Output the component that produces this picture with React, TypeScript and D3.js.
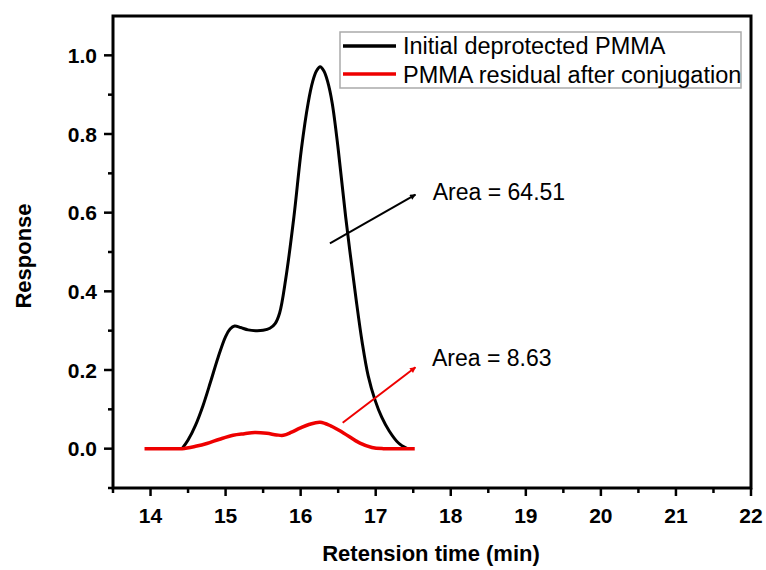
import React from "react";
import * as d3 from "d3";

const blackX = [14.42, 14.5, 14.6, 14.7, 14.8, 14.9, 15.0, 15.06, 15.12, 15.2, 15.3, 15.4, 15.5, 15.59, 15.66, 15.72, 15.8, 15.91, 16.01, 16.1, 16.16, 16.21, 16.26, 16.31, 16.36, 16.42, 16.5, 16.6, 16.74, 16.82, 16.9, 16.99, 17.08, 17.18, 17.3, 17.42];
const blackY = [0.0, 0.022, 0.06, 0.11, 0.17, 0.232, 0.285, 0.304, 0.312, 0.308, 0.302, 0.3, 0.301, 0.306, 0.318, 0.345, 0.43, 0.589, 0.762, 0.879, 0.933, 0.96, 0.971, 0.96, 0.933, 0.879, 0.762, 0.589, 0.378, 0.27, 0.185, 0.124, 0.08, 0.045, 0.015, 0.0];

const redX = [13.92, 14.2, 14.42, 14.6, 14.75, 14.92, 15.1, 15.25, 15.39, 15.55, 15.68, 15.77, 15.88, 15.99, 16.12, 16.26, 16.4, 16.57, 16.79, 16.95, 17.1, 17.3, 17.52];
const redY = [0.0, 0.0, 0.0, 0.006, 0.013, 0.024, 0.034, 0.038, 0.041, 0.039, 0.035, 0.034, 0.042, 0.052, 0.062, 0.067, 0.058, 0.04, 0.014, 0.003, 0.0, 0.0, 0.0];

const xTicks = [14, 15, 16, 17, 18, 19, 20, 21, 22];
const yTicks = [0.0, 0.2, 0.4, 0.6, 0.8, 1.0];
const legendLabels = ["Initial deprotected PMMA", "PMMA residual after conjugation"];
const seriesColors = ["#000000", "#ee0000"];
const annotations = [
  { label: "Area = 64.51", x0: 16.39, y0: 0.522, x1: 17.53, y1: 0.646, tx: 17.76, ty: 0.631, color: "#000000" },
  { label: "Area = 8.63", x0: 16.56, y0: 0.066, x1: 17.53, y1: 0.207, tx: 17.75, ty: 0.21, color: "#ee0000" },
];

export default function App() {
  const L = 113, R = 751, T = 16, B = 488;
  const x = d3.scaleLinear().domain([13.5, 22]).range([L, R]);
  const y = d3.scaleLinear().domain([-0.1, 1.1]).range([B, T]);
  const line = d3
    .line<[number, number]>()
    .x((d) => x(d[0]))
    .y((d) => y(d[1]))
    .curve(d3.curveCatmullRom.alpha(0.5));
  const blackPts = blackX.map((v, i) => [v, blackY[i]] as [number, number]);
  const redPts = redX.map((v, i) => [v, redY[i]] as [number, number]);
  const xMinor = d3.range(13.5, 22.01, 0.5).filter((v) => !xTicks.includes(v));
  const yMinor = [-0.1, 0.1, 0.3, 0.5, 0.7, 0.9];
  const font = "Liberation Sans, Arial, sans-serif";

  return (
    <svg width={766} height={570} style={{ position: "absolute", left: 0, top: 0, background: "#fff" }} fontFamily={font}>
      <defs>
        {annotations.map((a, i) => (
          <marker key={i} id={"ah" + i} viewBox="0 0 10 10" refX={9} refY={5} markerWidth={7} markerHeight={6} orient="auto" markerUnits="userSpaceOnUse">
            <path d="M0,0 L10,5 L0,10 Z" fill={a.color} />
          </marker>
        ))}
      </defs>
      {/* frame */}
      <rect x={L} y={T} width={R - L} height={B - T} fill="none" stroke="#000" strokeWidth={3} />
      {/* ticks */}
      {xTicks.map((t) => (
        <g key={"xt" + t}>
          <line x1={x(t)} x2={x(t)} y1={B} y2={B + 8} stroke="#000" strokeWidth={2.5} />
          <text x={x(t)} y={523} textAnchor="middle" fontSize={21} fontWeight="bold">{t}</text>
        </g>
      ))}
      {xMinor.map((t) => (
        <line key={"xm" + t} x1={x(t)} x2={x(t)} y1={B} y2={B + 5} stroke="#000" strokeWidth={2.5} />
      ))}
      {yTicks.map((t) => (
        <g key={"yt" + t}>
          <line x1={L - 9} x2={L} y1={y(t)} y2={y(t)} stroke="#000" strokeWidth={2.5} />
          <text x={97} y={y(t) + 7.5} textAnchor="end" fontSize={21} fontWeight="bold">{t.toFixed(1)}</text>
        </g>
      ))}
      {yMinor.map((t) => (
        <line key={"ym" + t} x1={L - 5} x2={L} y1={y(t)} y2={y(t)} stroke="#000" strokeWidth={2.5} />
      ))}
      {/* axis titles */}
      <text x={431} y={561} textAnchor="middle" fontSize={22} fontWeight="bold">Retension time (min)</text>
      <text transform={`translate(31,256) rotate(-90)`} textAnchor="middle" fontSize={22} fontWeight="bold">Response</text>
      {/* curves */}
      <path d={line(blackPts) || ""} fill="none" stroke={seriesColors[0]} strokeWidth={3} />
      <path d={line(redPts) || ""} fill="none" stroke={seriesColors[1]} strokeWidth={3.5} />
      {/* annotations */}
      {annotations.map((a, i) => (
        <g key={"an" + i}>
          <line x1={x(a.x0)} y1={y(a.y0)} x2={x(a.x1)} y2={y(a.y1)} stroke={a.color} strokeWidth={2} markerEnd={`url(#ah${i})`} />
          <text x={x(a.tx)} y={y(a.ty)} fontSize={23} fill="#000">{a.label}</text>
        </g>
      ))}
      {/* legend */}
      <rect x={340} y={32} width={401} height={56} fill="#fff" stroke="#aaa" strokeWidth={1.5} />
      {legendLabels.map((lab, i) => (
        <g key={"lg" + i}>
          <line x1={343} x2={396} y1={46 + i * 28} y2={46 + i * 28} stroke={seriesColors[i]} strokeWidth={3.5} />
          <text x={403} y={54 + i * 28.5} fontSize={23.5}>{lab}</text>
        </g>
      ))}
    </svg>
  );
}
